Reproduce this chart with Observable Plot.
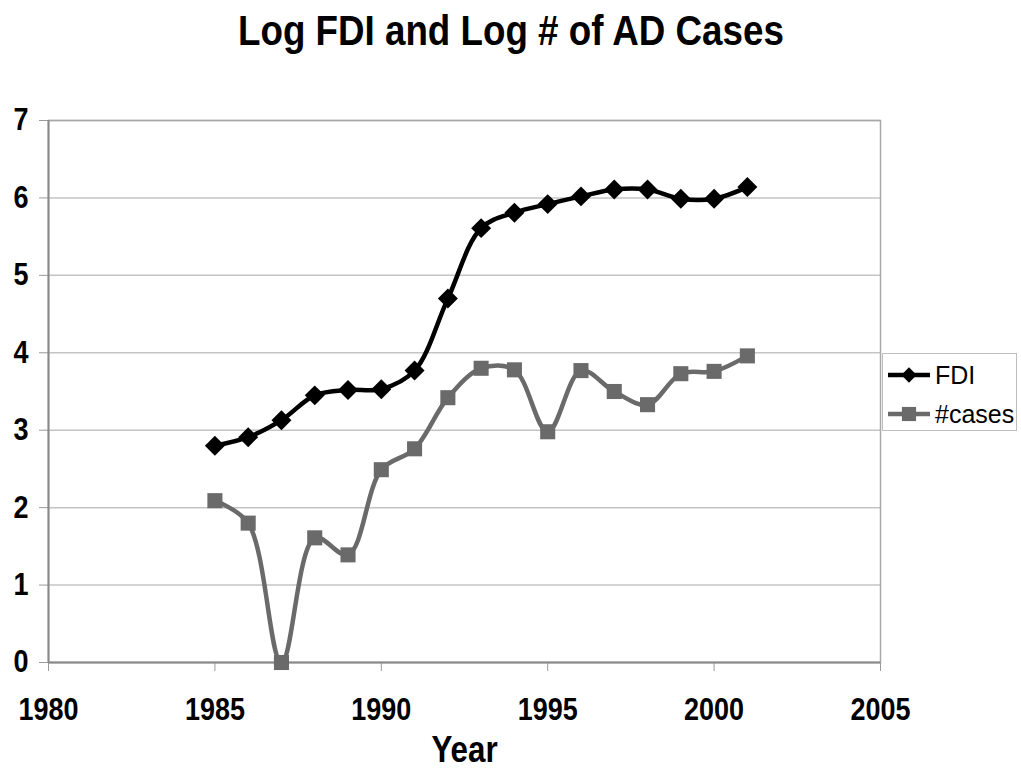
<!DOCTYPE html>
<html>
<head>
<meta charset="utf-8">
<script src="https://cdn.jsdelivr.net/npm/d3@7"></script>
<script src="https://cdn.jsdelivr.net/npm/@observablehq/plot@0.6"></script>
<style>
  html, body { margin: 0; padding: 0; background: #fff; }
  body { width: 1021px; height: 782px; position: relative; overflow: hidden; font-family: "Liberation Sans", Arial, sans-serif; }
  #title { height: 70px; line-height: 62px; text-align: center; font-weight: bold; font-size: 42px; width: 1021px; }
  #title span { display: inline-block; transform: scaleX(0.875); }
  #legend { position: absolute; left: 882px; top: 353px; width: 135px; height: 78px; border: 1px solid #bdbdbd; box-sizing: border-box; background: #fff; }
  #legend .row { position: absolute; left: 0; height: 30px; display: flex; align-items: center; font-size: 25px; }
  #legend svg { display: block; margin-right: 3px; }
</style>
</head>
<body>
<div id="title"><span>Log FDI and Log # of AD Cases</span></div>
<div id="chart"></div>
<div id="legend"></div>
<script>
const years = [1985,1986,1987,1988,1989,1990,1991,1992,1993,1994,1995,1996,1997,1998,1999,2000,2001];
const fdiValues = [2.80,2.91,3.13,3.45,3.52,3.53,3.77,4.70,5.61,5.81,5.92,6.02,6.11,6.11,5.99,5.99,6.14];
const casesValues = [2.09,1.80,0.00,1.61,1.39,2.49,2.76,3.42,3.80,3.78,2.98,3.77,3.50,3.33,3.73,3.76,3.96];
const seriesNames = ["FDI", "#cases"];
const xTicks = [1980,1985,1990,1995,2000,2005];
const yTicks = [0,1,2,3,4,5,6,7];

const fdi = years.map((y, i) => ({year: y, value: fdiValues[i]}));
const cases = years.map((y, i) => ({year: y, value: casesValues[i]}));

const fdiColor = "#000000";
const casesColor = "#6a6a6a";

const chart = Plot.plot({
  width: 1021,
  height: 712,
  marginTop: 50,
  marginBottom: 120,
  marginLeft: 48,
  marginRight: 141,
  style: {fontFamily: "'Liberation Sans', Arial, sans-serif", fontSize: "31px", fontWeight: "bold", color: "#000", background: "#fff"},
  x: {domain: [1980, 2005], label: null},
  y: {domain: [0, 7], label: null},
  marks: [
    Plot.gridY(yTicks, {stroke: "#c4c4c4", strokeOpacity: 1, strokeWidth: 1.5}),
    Plot.frame({stroke: "#a8a8a8", strokeWidth: 1.5}),
    Plot.axisX({ticks: xTicks, tickFormat: "d", tickSize: 9, tickPadding: 26, stroke: "#9a9a9a", fill: "#000", label: null}),
    Plot.axisY({ticks: yTicks, tickFormat: "d", tickSize: 9, tickPadding: 11, stroke: "#9a9a9a", fill: "#000", label: null}),
    Plot.ruleX([1980], {stroke: "#8a8a8a", strokeWidth: 2}),
    Plot.ruleY([0], {stroke: "#8a8a8a", strokeWidth: 2}),
    Plot.line(cases, {x: "year", y: "value", curve: "catmull-rom", stroke: casesColor, strokeWidth: 4.5}),
    Plot.dot(cases, {x: "year", y: "value", symbol: "square", r: 8.5, fill: casesColor, stroke: "none"}),
    Plot.line(fdi, {x: "year", y: "value", curve: "catmull-rom", stroke: fdiColor, strokeWidth: 4.5}),
    Plot.dot(fdi, {x: "year", y: "value", symbol: "diamond2", r: 9, fill: fdiColor, stroke: "none"}),
    Plot.text(["Year"], {frameAnchor: "bottom", lineAnchor: "middle", dy: 88, fontSize: 36, fontWeight: "bold", fill: "#000"})
  ]
});
// condense the axis and axis-title lettering like the reference
chart.querySelectorAll('g[aria-label$="tick label"] text, g[aria-label="text"] text').forEach(el => {
  const t = el.getAttribute("transform") || "";
  el.setAttribute("transform", t + " scale(0.87,1)");
});
document.getElementById("chart").appendChild(chart);

// legend
const legend = d3.select("#legend");
const legendItems = [
  {name: seriesNames[0], color: fdiColor, symbol: d3.symbolDiamond2, size: 150},
  {name: seriesNames[1], color: casesColor, symbol: d3.symbolSquare, size: 200}
];
legendItems.forEach((d, i) => {
  const row = legend.append("div").attr("class", "row").style("top", (i === 0 ? 6 : 45) + "px").style("left", "3px");
  const s = row.append("svg").attr("width", 46).attr("height", 30);
  s.append("line").attr("x1", 2).attr("x2", 44).attr("y1", 15).attr("y2", 15).attr("stroke", d.color).attr("stroke-width", 4.5);
  s.append("path").attr("transform", "translate(23,15)").attr("d", d3.symbol(d.symbol, d.size)()).attr("fill", d.color);
  row.append("span").text(d.name);
});
</script>
</body>
</html>
